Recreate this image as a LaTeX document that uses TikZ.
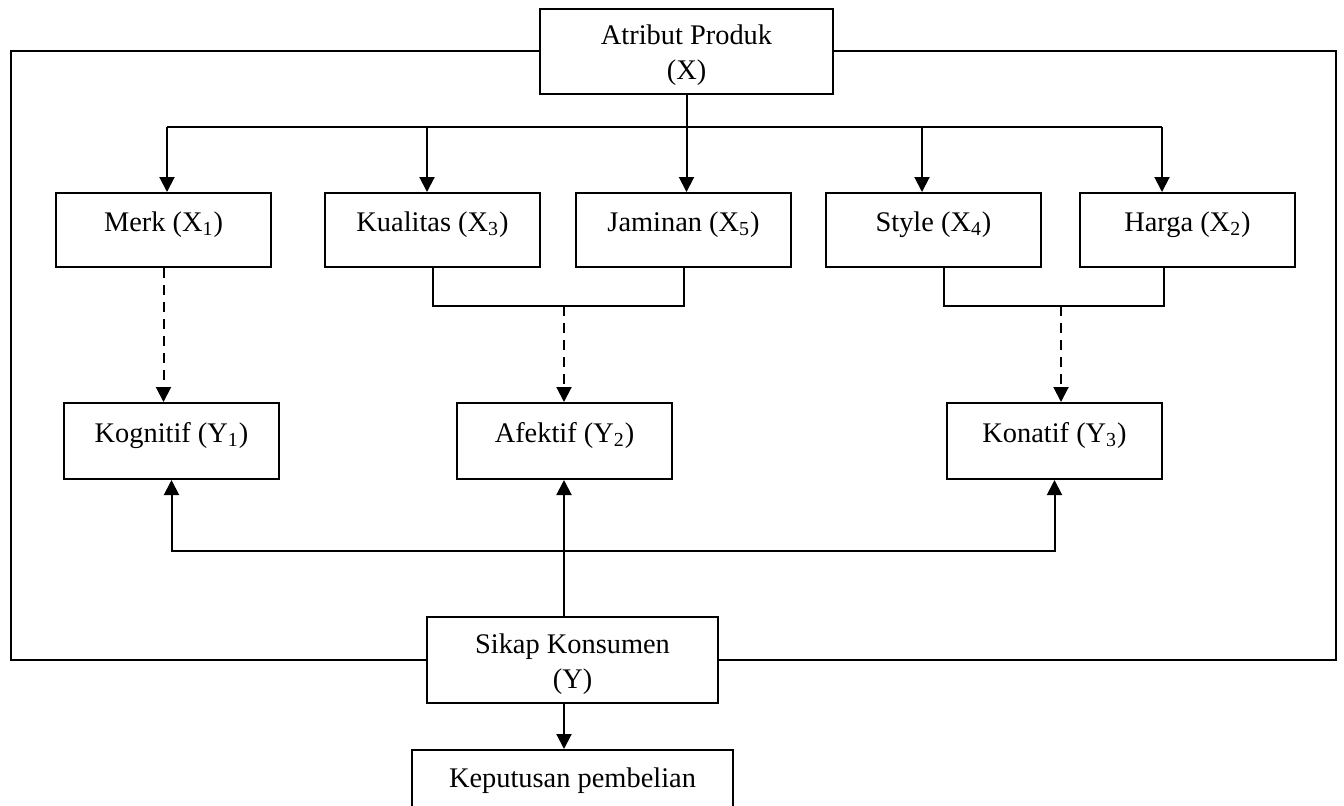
\documentclass[tikz,border=0pt]{standalone}
\usepackage{fontspec}
\setmainfont{Liberation Serif}
\usetikzlibrary{arrows.meta,positioning}

\begin{document}
\begin{tikzpicture}[
    x=0.5pt, y=-0.5pt,
    font=\fontsize{14.2pt}{17.5pt}\selectfont,
    box/.style={draw=black, line width=1pt, fill=white, inner sep=0pt, align=center, minimum width=107.5pt, minimum height=37pt, text height=10pt, text depth=9pt},
    headbox/.style={box, minimum width=146pt, minimum height=42.5pt, text height=28.5pt, text depth=0pt},
    link/.style={line width=1pt, draw=black},
    arr/.style={link, -{Triangle[width=7.5pt,length=7.5pt]}},
    dasharr/.style={arr, dash pattern=on 5pt off 3.5pt}
]
\useasboundingbox (0,0) rectangle (1344,805);

% Top: product attribute
\node[headbox, minimum width=146.5pt] (atribut) at (686.5,51) {Atribut Produk\\(X)};

% Row of attribute indicators
\node[box] (merk) at (163.5,230) {Merk (X\textsubscript{1})};
\node[box] (kualitas) at (432.5,230) {Kualitas (X\textsubscript{3})};
\node[box] (jaminan) at (683.5,230) {Jaminan (X\textsubscript{5})};
\node[box] (style) at (933.5,230) {Style (X\textsubscript{4})};
\node[box] (harga) at (1187.5,230) {Harga (X\textsubscript{2})};

% Row of attitude components
\node[box, minimum height=38pt] (kognitif) at (171.5,441) {Kognitif (Y\textsubscript{1})};
\node[box, minimum height=38pt] (afektif) at (564.5,441) {Afektif (Y\textsubscript{2})};
\node[box, minimum height=38pt] (konatif) at (1054.5,441) {Konatif (Y\textsubscript{3})};

% Bottom: consumer attitude and decision
\node[headbox, minimum width=145.5pt, minimum height=43pt] (sikap) at (572.5,660) {Sikap Konsumen\\(Y)};
\node[box, below=22.5pt of sikap, minimum width=160.5pt, minimum height=36pt] (keputusan) {Keputusan pembelian};

% Helper points
\coordinate (dMerk) at (167,127);
\coordinate (dKual) at (427,127);
\coordinate (dStyle) at (922,127);
\coordinate (dHarga) at (1162,127);
\coordinate (jkMid) at (564,306);
\coordinate (shLeft) at (944,306);
\coordinate (shMid) at (1061,306);
\coordinate (shRight) at (1164,306);
\coordinate (hub) at (564,551);
\coordinate (frameL) at (11,356);
\coordinate (frameR) at (1336,356);

% Outer frame
\draw[link] (atribut.west) -| (frameL) |- (sikap.west);
\draw[link] (atribut.east) -| (frameR) |- (sikap.east);

% Distribution bar
\draw[link] (dMerk) -- (dHarga);
\draw[arr] (atribut.south) -- (atribut.south |- jaminan.north);
\draw[arr] (dMerk) -- (dMerk |- merk.north);
\draw[arr] (dKual) -- (dKual |- kualitas.north);
\draw[arr] (dStyle) -- (dStyle |- style.north);
\draw[arr] (dHarga) -- (dHarga |- harga.north);

% Indicators to components
\draw[dasharr] (merk.south) -- (merk.south |- kognitif.north);
\draw[link] (kualitas.south) |- (jkMid) -| (jaminan.south);
\draw[dasharr] (jkMid) -- (jkMid |- afektif.north);
\draw[link] (shLeft |- style.south) -- (shLeft) -- (shRight) -- (shRight |- harga.south);
\draw[dasharr] (shMid) -- (shMid |- konatif.north);

% Consumer attitude to components
\draw[arr] (hub |- sikap.north) -- (hub |- afektif.south);
\draw[arr] (hub) -| (kognitif.south);
\draw[arr] (hub) -| (konatif.south);
\draw[arr] (hub |- sikap.south) -- (hub |- keputusan.north);

\end{tikzpicture}
\end{document}
